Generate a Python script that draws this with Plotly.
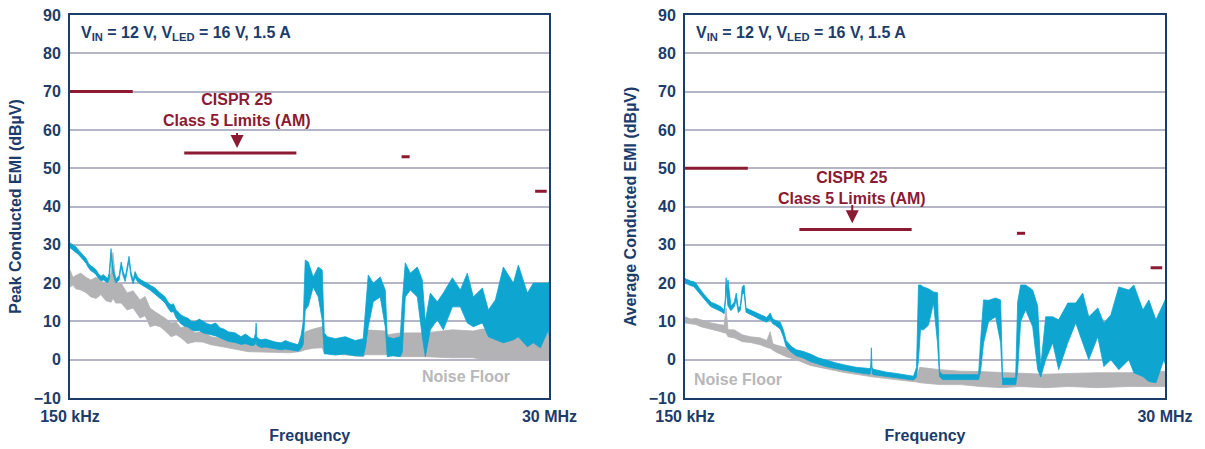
import numpy as np
import plotly.graph_objects as go

# ---------------- data (frequency in MHz, level in dBµV) ----------------
peak_freq = [0.150, 0.152, 0.156, 0.160, 0.165, 0.169, 0.174, 0.179, 0.184, 0.189, 0.195, 0.200,
             0.205, 0.211, 0.217, 0.223, 0.227, 0.231, 0.234, 0.236, 0.238, 0.241,
             0.249, 0.258, 0.264, 0.270, 0.276, 0.282, 0.288, 0.294, 0.301, 0.308, 0.316, 0.325,
             0.334, 0.344, 0.363, 0.384, 0.395, 0.406, 0.429, 0.444, 0.458, 0.470, 0.484, 0.497,
             0.512, 0.530, 0.553, 0.575, 0.598, 0.625, 0.653, 0.683, 0.713, 0.750, 0.788, 0.820,
             0.861, 0.930, 0.994, 1.040, 1.074, 1.110, 1.148, 1.165, 1.173, 1.182, 1.200, 1.240,
             1.300, 1.370, 1.450, 1.547, 1.620, 1.710, 1.790, 1.868,
             1.931, 1.974, 2.018, 2.086, 2.204, 2.330, 2.435, 2.490, 2.574, 2.812, 3.141, 3.507,
             3.832, 3.918, 4.049, 4.280, 4.624, 4.887, 4.996, 5.338, 5.769, 5.898, 6.096, 6.443,
             6.964, 7.359, 7.607, 8.039, 8.685, 9.28, 10.26, 11.20, 12.10, 12.93, 14.29, 15.27,
             16.50, 18.02, 20.13, 21.27, 23.50, 25.11, 27.14, 29.64, 30.0]
peak_hi = [30.5, 30.3, 29.8, 29.5, 28.6, 28.0, 27.4, 26.5, 25.2, 24.5, 24.0, 23.5,
           22.5, 21.8, 22.2, 21.5, 21.2, 22.5, 26.0, 29.0, 27.0, 24.0,
           21.0, 22.0, 25.5, 23.0, 21.5, 24.5, 27.0, 23.0, 20.8, 23.0, 21.6, 21.0,
           20.6, 20.3, 19.5, 18.7, 18.0, 17.5, 16.4, 15.0, 14.3, 14.6, 13.0, 12.4,
           11.7, 11.2, 10.8, 10.0, 9.9, 10.6, 10.0, 9.4, 9.1, 9.6, 8.3, 8.0,
           7.3, 7.0, 6.0, 6.7, 6.2, 5.6, 5.5, 7.0, 9.6, 6.0, 5.5, 5.2,
           5.4, 5.0, 4.6, 4.4, 5.0, 4.5, 4.2, 3.9,
           6.5, 10.0, 26.0, 25.5, 21.6, 24.2, 23.4, 7.0, 6.0, 5.5, 6.0, 5.0,
           5.5, 12.0, 22.1, 20.0, 21.6, 18.2, 6.0, 5.5, 6.0, 15.0, 25.3, 22.6,
           24.2, 20.8, 10.0, 17.4, 15.1, 17.4, 21.4, 18.2, 22.6, 16.4, 18.7, 13.0,
           15.6, 24.2, 20.0, 24.7, 17.4, 20.0, 20.0, 20.0, 20.5]
peak_lo = [29.2, 29.0, 28.6, 28.0, 27.4, 26.8, 26.0, 25.2, 24.0, 23.2, 22.8, 22.2,
           21.3, 20.6, 20.8, 20.3, 20.1, 21.0, 24.5, 27.5, 25.0, 22.5,
           20.0, 20.8, 24.2, 21.8, 20.4, 23.2, 25.8, 21.8, 19.8, 21.5, 20.4, 19.8,
           19.4, 19.0, 18.2, 17.2, 16.6, 16.0, 14.8, 13.4, 12.4, 12.6, 11.0, 10.2,
           9.3, 8.8, 8.5, 7.8, 7.5, 7.6, 7.0, 6.8, 6.5, 6.2, 5.5, 5.3,
           4.8, 4.5, 4.0, 4.2, 4.0, 3.7, 3.8, 4.2, 5.0, 3.8, 3.5, 3.2,
           3.3, 3.0, 2.8, 2.6, 2.8, 2.5, 2.4, 2.2,
           3.0, 4.0, 13.0, 14.0, 19.0, 16.4, 10.4, 1.5, 1.5, 1.2, 1.5, 1.0,
           1.0, 3.0, 8.6, 15.1, 16.4, 8.6, 0.8, 1.0, 0.8, 2.0, 16.4, 18.2,
           16.4, 6.0, 0.8, 7.8, 10.4, 7.8, 13.8, 13.8, 9.6, 8.6, 9.6, 6.0,
           5.2, 4.4, 5.2, 6.0, 3.4, 4.4, 3.1, 7.8, 6.0]

peak_nf_freq = [0.150, 0.155, 0.160, 0.169, 0.179, 0.189, 0.200, 0.211, 0.223, 0.236, 0.241, 0.249, 0.264,
                0.282, 0.301, 0.325, 0.344, 0.363, 0.384, 0.406, 0.430, 0.458, 0.485, 0.512, 0.550,
                0.598, 0.650, 0.713, 0.861, 1.074,
                1.370, 1.710, 1.931, 2.018, 2.204, 2.435, 2.490, 3.141, 3.832, 3.918, 4.887, 5.0,
                5.769, 7.607, 10.26, 12.93, 14.29, 18.02, 23.50, 30.0]
peak_nf_hi = [23.4, 21.5, 22.0, 22.6, 21.5, 20.8, 21.5, 20.5, 20.0, 22.6, 28.0, 20.0, 20.0,
              17.4, 18.0, 15.6, 16.5, 13.5, 12.5, 11.7, 10.8, 9.6, 9.8, 8.3, 9.0,
              7.0, 7.4, 6.0, 5.2, 4.4,
              4.0, 3.8, 4.0, 7.3, 8.0, 8.6, 5.2, 4.8, 4.4, 7.8, 7.5, 6.5,
              7.0, 7.0, 7.8, 7.5, 8.0, 7.5, 7.3, 7.5]
peak_nf_lo = [19.0, 19.5, 18.5, 18.2, 17.5, 16.4, 16.0, 17.0, 15.4, 15.0, 16.0, 14.8, 14.8,
              13.0, 13.5, 10.9, 11.5, 8.6, 9.0, 8.6, 7.5, 6.0, 6.5, 5.7, 4.2,
              4.7, 4.6, 3.9, 3.1, 2.1,
              2.0, 1.8, 2.2, 2.6, 3.0, 3.1, 1.8, 1.3, 0.8, 1.3, 1.3, 1.3,
              0.8, 0.8, 0.5, 0.5, 0.0, 0.0, 0.0, 0.0]

avg_freq = [0.150, 0.152, 0.156, 0.160, 0.165, 0.169, 0.174, 0.179, 0.184, 0.189, 0.195, 0.200,
            0.211, 0.223, 0.231, 0.234, 0.236, 0.238, 0.241,
            0.249, 0.258, 0.264, 0.270, 0.276, 0.282, 0.288, 0.294, 0.308, 0.320, 0.344, 0.370,
            0.384, 0.395, 0.406,
            0.429, 0.444, 0.458, 0.484, 0.512, 0.550, 0.598, 0.653, 0.713, 0.788, 0.861, 0.994, 1.148,
            1.165, 1.173, 1.182, 1.200, 1.370, 1.547, 1.710, 1.868, 1.931, 1.974, 2.018, 2.086, 2.204, 2.330,
            2.435, 2.490, 2.574, 3.141, 3.832, 3.918, 4.049, 4.280, 4.624, 4.887, 4.996, 5.769,
            5.898, 6.096, 6.443, 6.964, 7.359, 7.607, 8.039, 8.685, 9.28, 10.26, 11.20, 12.10,
            12.93, 14.29, 15.27, 16.50, 18.02, 20.13, 21.27, 23.50, 25.11, 27.14, 29.64, 30.0]
avg_hi = [21.3, 21.0, 20.8, 20.5, 20.4, 20.0, 19.0, 18.0, 17.2, 16.5, 15.6, 15.0,
          14.5, 13.8, 13.0, 16.0, 21.4, 18.0, 20.8,
          14.0, 15.0, 17.4, 13.5, 14.0, 19.0, 19.5, 13.5, 13.0, 12.6, 11.7, 11.0,
          12.2, 10.6, 10.3,
          9.8, 7.8, 5.0, 3.5, 2.6, 2.2, 1.5, 0.5, -0.2, -0.8, -1.3, -2.0, -2.3,
          -2.0, 3.1, -2.0, -2.5, -3.2, -3.6, -4.0, -4.3, -2.0, 19.5, 19.5, 19.0, 18.5, 17.7,
          17.5, -3.0, -3.9, -3.9, -3.9, 5.0, 15.6, 15.5, 16.1, 15.6, -4.8, -4.8,
          15.0, 19.5, 19.5, 18.2, 14.0, -2.0, 11.2, 11.2, 10.4, 14.8, 14.8, 17.4,
          11.2, 13.5, 9.6, 11.7, 19.0, 18.2, 19.5, 13.0, 15.6, 10.4, 14.8, 15.5]
avg_lo = [20.0, 19.8, 19.6, 19.3, 19.1, 18.7, 17.8, 16.8, 16.0, 15.3, 14.4, 13.8,
          13.3, 12.6, 12.0, 14.5, 19.5, 16.5, 14.0,
          12.8, 13.8, 15.5, 12.3, 12.9, 17.0, 17.5, 12.4, 11.8, 11.4, 10.5, 9.8,
          10.5, 9.4, 9.0,
          8.0, 6.0, 3.4, 2.0, 1.0, 0.5, -0.5, -1.2, -1.8, -2.3, -2.8, -3.3, -3.8,
          -3.5, -1.0, -3.6, -3.9, -4.4, -4.8, -5.0, -5.3, -4.5, 0.0, 7.8, 7.8, 9.0, 14.8,
          4.4, -4.4, -5.2, -5.2, -5.2, -3.0, 4.4, 10.0, 11.2, 4.4, -6.5, -6.5,
          -3.0, 10.0, 13.0, 8.6, -2.6, -4.5, 0.0, 4.4, -2.6, 4.4, 9.6, 4.4,
          0.0, 6.0, -1.8, 0.0, -2.6, 0.0, -3.4, -4.4, -5.7, -6.0, 0.0, -1.0]

avg_nf_freq = [0.150, 0.160, 0.169, 0.179, 0.200, 0.223, 0.231, 0.236, 0.241, 0.258, 0.282, 0.308, 0.344,
               0.370, 0.384, 0.395, 0.406, 0.458, 0.512, 0.598, 0.861, 1.200, 1.710, 1.931, 2.0, 2.5, 3.141,
               3.9, 5.0, 6.0, 8.0, 10.3, 14.3, 20.1, 25.1, 30.0]
avg_nf_hi = [11.2, 10.6, 10.8, 10.4, 9.6, 9.1, 9.0, 13.5, 7.8, 7.8, 6.5, 6.0, 5.7,
             5.0, 7.3, 4.2, 3.9, 3.1, 2.0, -0.5, -2.5, -3.6, -4.5, -4.6, -2.0, -2.6, -3.0,
             -3.1, -3.3, -3.4, -3.8, -3.6, -3.4, -3.4, -3.2, -3.0]
avg_nf_lo = [9.6, 9.4, 9.2, 8.6, 8.0, 7.3, 7.0, 7.0, 6.0, 5.7, 4.7, 4.5, 3.9,
             3.2, 3.0, 2.6, 2.1, 0.8, 0.0, -1.5, -3.3, -4.5, -5.5, -5.8, -6.0, -6.5, -6.5,
             -7.0, -7.3, -7.0, -7.3, -7.0, -7.3, -7.0, -7.0, -7.0]

# CISPR 25 Class 5 limits (AM bands): start MHz, stop MHz
limit_start = [0.15, 0.53, 5.85, 25.6]
limit_stop = [0.30, 1.83, 6.40, 29.1]
peak_limit = [70, 54, 53, 44]
avg_limit = [50, 34, 33, 24]

y_ticks = [-10, 0, 10, 20, 30, 40, 50, 60, 70, 80, 90]
x_tick_vals = [0.15, 30]
x_tick_text = ["150 kHz", "30 MHz"]

# ---------------- styling ----------------
NAVY = "#1c3c6a"
BLUE = "#0ea5d0"
GRAY = "#b3b3b5"
RED = "#8b1a32"
GRID = "#b4b6c8"
FONT = "Liberation Sans"


def band(freq, hi, lo, color, xa, ya):
    return go.Scatter(x=list(freq) + list(freq)[::-1], y=list(hi) + list(lo)[::-1],
                      fill="toself", fillcolor=color, mode="lines",
                      line=dict(color=color, width=0.8), xaxis=xa, yaxis=ya,
                      hoverinfo="skip", showlegend=False)


def limits(levels, xa, ya):
    xs, ys = [], []
    for a, b, v in zip(limit_start, limit_stop, levels):
        xs += [a, b, None]
        ys += [v, v, None]
    return go.Scatter(x=xs, y=ys, mode="lines", line=dict(color=RED, width=3),
                      xaxis=xa, yaxis=ya, showlegend=False)


fig = go.Figure()
fig.add_trace(band(peak_nf_freq, peak_nf_hi, peak_nf_lo, GRAY, "x", "y"))
fig.add_trace(band(peak_freq, peak_hi, peak_lo, BLUE, "x", "y"))
fig.add_trace(limits(peak_limit, "x", "y"))
fig.add_trace(band(avg_nf_freq, avg_nf_hi, avg_nf_lo, GRAY, "x2", "y2"))
fig.add_trace(band(avg_freq, avg_hi, avg_lo, BLUE, "x2", "y2"))
fig.add_trace(limits(avg_limit, "x2", "y2"))

xrange = [np.log10(0.15), np.log10(30)]


def xaxis(domain, anchor):
    return dict(domain=domain, anchor=anchor, type="log", range=xrange, automargin=False,
                tickvals=x_tick_vals, ticktext=x_tick_text, ticks="outside", ticklen=3,
                tickcolor="rgba(0,0,0,0)",
                showgrid=False, zeroline=False, showline=True, linecolor=NAVY, linewidth=2,
                mirror=True,
                tickfont=dict(family=FONT, size=16, color=NAVY, weight="bold"),
                title=dict(text="<b>Frequency</b>", font=dict(family=FONT, size=16, color=NAVY),
                           standoff=6))


def yaxis(anchor, title):
    return dict(domain=[0, 1], anchor=anchor, range=[-10, 90], tickvals=y_ticks, automargin=False,
                showgrid=True, gridcolor=GRID, gridwidth=2, zeroline=False,
                showline=True, linecolor=NAVY, linewidth=2, mirror=True,
                ticks="outside", ticklen=4, tickcolor="rgba(0,0,0,0)",
                tickfont=dict(family=FONT, size=16, color=NAVY, weight="bold"),
                title=dict(text="<b>" + title + "</b>", font=dict(family=FONT, size=16, color=NAVY),
                           standoff=8))


fig.update_layout(
    width=1205, height=449,
    margin=dict(l=0, r=0, t=15, b=51),
    paper_bgcolor="white", plot_bgcolor="white",
    xaxis=xaxis([0.0581, 0.4560], "y"),
    yaxis=yaxis("x", "Peak Conducted EMI (dBµV)"),
    xaxis2=xaxis([0.5685, 0.9668], "y2"),
    yaxis2=yaxis("x2", "Average Conducted EMI (dBµV)"),
    showlegend=False,
)

annots = []
for xr, yr, cispr_y, tip, tail in [("x", "y", 65.2, 55.3, 59.6), ("x2", "y2", 44.8, 35.6, 40.8)]:
    annots.append(dict(xref=xr + " domain", yref=yr + " domain", x=0.018, y=0.951,
                       xanchor="left", yanchor="middle", showarrow=False,
                       text="<b>V<sub>IN</sub> = 12 V, V<sub>LED</sub> = 16 V, 1.5 A</b>",
                       font=dict(family=FONT, size=16, color=NAVY)))
    annots.append(dict(xref=xr, yref=yr, x=np.log10(0.95), y=cispr_y, showarrow=False,
                       text="<b>CISPR 25<br>Class 5 Limits (AM)</b>", align="center",
                       font=dict(family=FONT, size=16, color=RED)))
    annots.append(dict(xref=xr, yref=yr, x=np.log10(0.95), y=tip, axref=xr, ayref=yr,
                       ax=np.log10(0.95), ay=tail, text="", showarrow=True, arrowhead=2,
                       arrowsize=1.3, arrowwidth=2, arrowcolor=RED))

annots.append(dict(xref="x", yref="y", x=np.log10(11.97), y=-4.4, showarrow=False,
                   text="<b>Noise Floor</b>", font=dict(family=FONT, size=16, color="#b8b8b8")))
annots.append(dict(xref="x2", yref="y2", x=np.log10(0.269), y=-5.2, showarrow=False,
                   text="<b>Noise Floor</b>", font=dict(family=FONT, size=16, color="#b8b8b8")))
fig.update_layout(annotations=annots)

fig.write_html("out.html")
